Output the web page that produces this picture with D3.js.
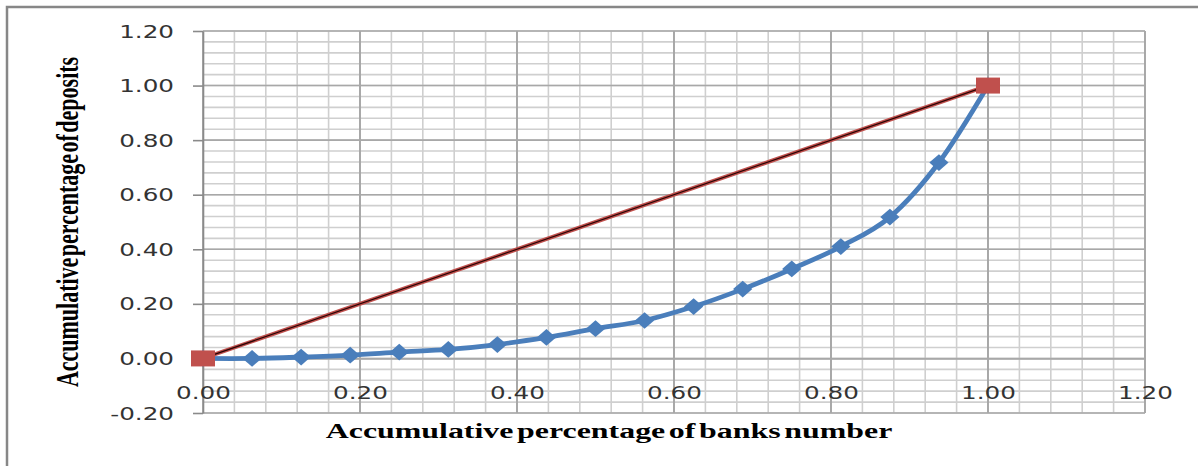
<!DOCTYPE html>
<html>
<head>
<meta charset="utf-8">
<script src="https://cdn.jsdelivr.net/npm/d3@7"></script>
<style>
  html, body { margin: 0; padding: 0; background: #fff; }
  svg { display: block; }
</style>
</head>
<body>
<div id="chart"></div>
<script>
// Lorenz curve: banks vs deposits
const bankShare = [0, 0.0625, 0.125, 0.1875, 0.25, 0.3125, 0.375, 0.4375, 0.5,
  0.5625, 0.625, 0.6875, 0.75, 0.8125, 0.875, 0.9375, 1.0];
const depositShare = [0, 0.0, 0.005, 0.012, 0.023, 0.033, 0.051, 0.077, 0.109,
  0.139, 0.19, 0.254, 0.328, 0.41, 0.518, 0.718, 1.0];
const equalityX = [0, 1];
const equalityY = [0, 1];
const xTicks = [0, 0.2, 0.4, 0.6, 0.8, 1.0, 1.2];
const yTicks = [-0.2, 0, 0.2, 0.4, 0.6, 0.8, 1.0, 1.2];
const xTitle = "Accumulative percentage of banks number";
const yTitle = "Accumulative percentage of deposits";

const W = 1198, H = 466;
const STRETCH = 1.45; // the source picture is widened horizontally
const fmt = d => d.toFixed(2); // plain hyphen for negatives, like Excel

const svg = d3.select("#chart").append("svg")
  .attr("width", W).attr("height", H);

// frame (only top + left edges are visible)
svg.append("path")
  .attr("d", `M7,${H} L7,7 L${W},7`)
  .attr("fill", "none")
  .attr("stroke", "#878787")
  .attr("stroke-width", 2.5);

const x = d3.scaleLinear().domain([0, 1.2]).range([203, 1145]);
const y = d3.scaleLinear().domain([-0.2, 1.2]).range([413, 31]);

// gridlines
const minorX = d3.range(0, 1.2001, 0.04);
const minorY = d3.range(-0.2, 1.2001, 0.04);
const grid = svg.append("g");
grid.selectAll(".mx").data(minorX).enter().append("line")
  .attr("x1", d => x(d)).attr("x2", d => x(d))
  .attr("y1", y(1.2)).attr("y2", y(-0.2))
  .attr("stroke", "#cfcfcf").attr("stroke-width", 1.6);
grid.selectAll(".my").data(minorY).enter().append("line")
  .attr("x1", x(0)).attr("x2", x(1.2))
  .attr("y1", d => y(d)).attr("y2", d => y(d))
  .attr("stroke", "#cfcfcf").attr("stroke-width", 1.6);
grid.selectAll(".Mx").data(xTicks).enter().append("line")
  .attr("x1", d => x(d)).attr("x2", d => x(d))
  .attr("y1", y(1.2)).attr("y2", y(-0.2))
  .attr("stroke", "#9d9d9d").attr("stroke-width", 1.6);
grid.selectAll(".My").data(yTicks).enter().append("line")
  .attr("x1", x(0)).attr("x2", x(1.2))
  .attr("y1", d => y(d)).attr("y2", d => y(d))
  .attr("stroke", "#a8a8a8").attr("stroke-width", 1.6);

// y axis
const yAxis = svg.append("g")
  .attr("transform", `translate(${x(0)},0)`)
  .call(d3.axisLeft(y).tickValues(yTicks).tickSize(10).tickSizeOuter(0)
    .tickFormat(fmt));
yAxis.select(".domain").attr("stroke", "#8a8a8a").attr("stroke-width", 1.6);
yAxis.selectAll(".tick line").attr("stroke", "#8a8a8a").attr("stroke-width", 1.6);
yAxis.selectAll(".tick text")
  .attr("x", -29 / STRETCH)
  .attr("dy", "0.36em")
  .attr("transform", `scale(${STRETCH},1)`)
  .attr("font-family", "DejaVu Sans")
  .attr("font-size", 17)
  .attr("fill", "#333");

// x axis crossing at y = 0
const xAxis = svg.append("g")
  .attr("transform", `translate(0,${y(0)})`)
  .call(d3.axisBottom(x).tickValues(xTicks).tickSize(0).tickSizeOuter(0)
    .tickFormat(fmt));
xAxis.select(".domain").attr("stroke", "#a8a8a8").attr("stroke-width", 1.6);
xAxis.selectAll(".tick text")
  .attr("x", 0)
  .attr("y", 40.5)
  .attr("dy", 0)
  .attr("transform", `scale(${STRETCH},1)`)
  .attr("font-family", "DejaVu Sans")
  .attr("font-size", 17)
  .attr("fill", "#333");

// axis titles
svg.append("text")
  .attr("transform", `translate(609,438) scale(${STRETCH},1)`)
  .attr("text-anchor", "middle")
  .attr("font-family", "Liberation Serif")
  .attr("font-weight", "bold")
  .attr("font-size", 22)
  .attr("word-spacing", -3)
  .text(xTitle);

svg.append("text")
  .attr("transform", `translate(78,222) scale(${STRETCH},1) rotate(-90)`)
  .attr("text-anchor", "middle")
  .attr("font-family", "Liberation Serif")
  .attr("font-weight", "bold")
  .attr("font-size", 22)
  .attr("word-spacing", -4)
  .text(yTitle);

// Lorenz curve (blue)
const lorenz = bankShare.map((b, i) => [b, depositShare[i]]);
svg.append("path")
  .datum(lorenz)
  .attr("fill", "none")
  .attr("stroke", "#4a7ebb")
  .attr("stroke-width", 4.8)
  .attr("d", d3.line().x(d => x(d[0])).y(d => y(d[1])).curve(d3.curveCardinal));

const diamond = d3.symbol().type(d3.symbolSquare).size(140);
svg.selectAll(".dm").data(lorenz).enter().append("path")
  .attr("d", diamond)
  .attr("transform", d => `translate(${x(d[0])},${y(d[1])}) scale(1.15,1) rotate(45)`)
  .attr("fill", "#4a7ebb");

// equality line (red)
const equality = equalityX.map((v, i) => [v, equalityY[i]]);
const eqLine = d3.line().x(d => x(d[0])).y(d => y(d[1]));
svg.append("path").datum(equality)
  .attr("fill", "none").attr("stroke", "#c0504d").attr("stroke-width", 4)
  .attr("d", eqLine);
svg.append("path").datum(equality)
  .attr("fill", "none").attr("stroke", "#2a0505").attr("stroke-width", 1.2)
  .attr("d", eqLine);

const square = d3.symbol().type(d3.symbolSquare).size(256);
svg.selectAll(".sq").data(equality).enter().append("path")
  .attr("d", square)
  .attr("transform", d => `translate(${x(d[0])},${y(d[1])}) scale(1.5,1)`)
  .attr("fill", "#c0504d");
</script>
</body>
</html>
